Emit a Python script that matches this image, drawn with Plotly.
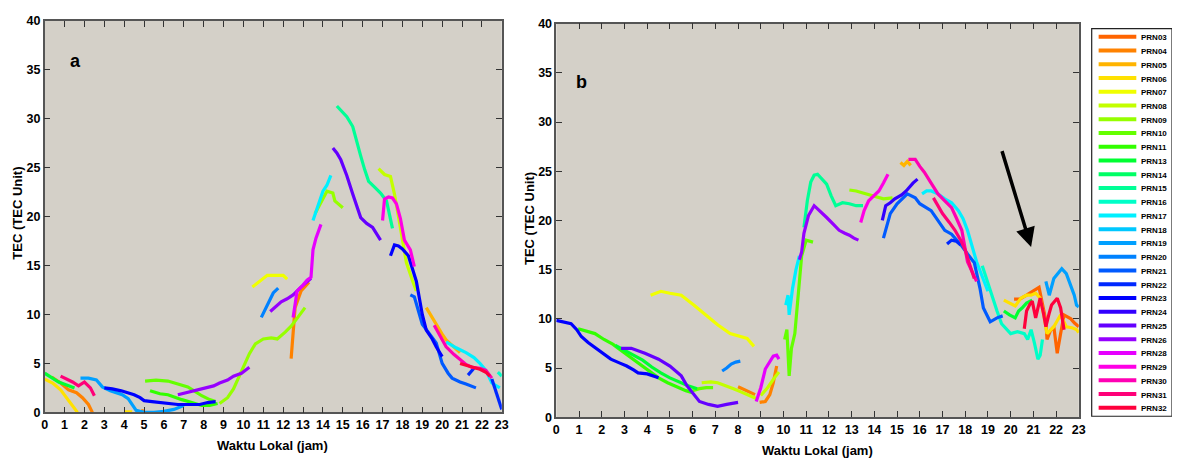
import plotly.graph_objects as go

# ---------------- legend / PRN list ----------------
prn_names = ["PRN03", "PRN04", "PRN05", "PRN06", "PRN07", "PRN08", "PRN09", "PRN10",
             "PRN11", "PRN13", "PRN14", "PRN15", "PRN16", "PRN17", "PRN18", "PRN19",
             "PRN20", "PRN21", "PRN22", "PRN23", "PRN24", "PRN25", "PRN26", "PRN28",
             "PRN29", "PRN30", "PRN31", "PRN32"]
prn_colors = ["#FF6400", "#FF8200", "#FFB400", "#FFE100", "#F0FF00", "#C3FF00", "#96FF00",
              "#64FF00", "#32FF00", "#00FF32", "#00FF64", "#00FF96", "#00FFC8", "#00F0FF",
              "#00C8FF", "#00A0FF", "#0082FF", "#005AFF", "#0028FF", "#0000FF", "#3200FF",
              "#6400FF", "#9600FF", "#E600FF", "#FF00E6", "#FF00B4", "#FF0078", "#FF003C"]

# ---------------- panel a : local time (h) and TEC ----------------
a_prn04_t = [0.35, 0.8, 1.2, 1.6, 1.9, 2.2, 2.4, None, 4.85, 5.0, None, 12.4, 12.5, 12.6, 12.9, 13.3]
a_prn04_v = [3.6, 3.0, 2.3, 2.0, 1.5, 0.8, 0.0, None, 0.2, 0.1, None, 5.5, 8.7, 10.7, 12.4, 13.3]
a_prn05_t = [19.2, 19.4, 19.7, 20.0, 20.2, 20.6, 20.9]
a_prn05_v = [10.7, 10.0, 9.0, 8.0, 7.4, 6.7, 6.1]
a_prn06_t = [0.0, 0.4, 0.8, 1.2, 1.45, 1.65, None, 4.0, 4.4]
a_prn06_v = [3.4, 3.0, 2.3, 1.2, 0.6, 0.0, None, 0.05, 0.05]
a_prn07_t = [10.45, 10.8, 11.2, 11.6, 12.0, 12.2]
a_prn07_v = [12.8, 13.4, 14.0, 14.0, 14.0, 13.6]
a_prn08_t = [16.8, 17.1, 17.4, 17.6, 17.8, 18.0, 18.2, 18.5, 18.7]
a_prn08_v = [24.9, 24.3, 24.1, 22.3, 20.0, 17.6, 15.3, 13.5, 12.4]
a_prn09_t = [8.8, 9.2, 9.5, 9.7, 10.0, 10.3, 10.6, 11.0, 11.4, 11.7, 12.1, 12.4, 12.7, 13.1,
             None, 13.6, 13.9, 14.2, 14.5, 14.6, 15.0]
a_prn09_v = [0.9, 1.5, 2.4, 3.3, 4.8, 6.0, 7.0, 7.5, 7.6, 7.5, 8.2, 8.8, 9.6, 10.7,
             None, 20.3, 21.5, 22.6, 22.4, 21.6, 20.9]
a_prn10_t = [5.05, 5.6, 6.2, 6.7, 7.2, 7.6, 7.9, 8.3, 8.6]
a_prn10_v = [3.2, 3.3, 3.2, 2.9, 2.6, 2.1, 1.7, 1.3, 1.1]
a_prn11_t = [5.3, 5.8, 6.2, 6.6, 6.9, 7.4, 7.9, 8.3, 8.7]
a_prn11_v = [2.2, 1.9, 1.8, 1.5, 1.3, 1.0, 0.7, 0.7, 0.9]
a_prn13_t = [0.0, 0.3, 0.7, 1.1, 1.5]
a_prn13_v = [4.0, 3.6, 3.1, 2.8, 2.5]
a_prn15_t = [14.7, 15.0, 15.2, 15.5, 15.7, 15.9, 16.1, 16.3, 16.6, 16.9, 17.2, 17.35, 17.5]
a_prn15_v = [31.3, 30.7, 30.2, 29.2, 27.6, 26.2, 24.8, 23.6, 23.0, 22.4, 21.6, 20.0, 18.8]
a_prn16_t = [22.8, 23.0]
a_prn16_v = [4.1, 3.7]
a_prn17_t = [13.5, 13.7, 14.0, 14.2, 14.4, None, 20.2, 20.7, 21.2, 21.6, 21.9, 22.2, 22.5, 22.9]
a_prn17_v = [19.6, 20.8, 22.6, 23.2, 24.2, None, 7.2, 6.6, 6.1, 5.6, 5.0, 4.3, 3.0, 2.5]
a_prn19_t = [1.8, 2.2, 2.6, 2.9, 3.3, 3.6, 3.9, 4.2, 4.4, 4.6, 5.0, 5.5, 6.0, 6.5, 7.0]
a_prn19_v = [3.5, 3.5, 3.3, 2.6, 2.2, 2.0, 1.8, 1.4, 0.8, 0.2, 0.0, 0.0, 0.1, 0.3, 0.7]
a_prn20_t = [10.9, 11.2, 11.5, 11.75]
a_prn20_v = [9.7, 11.0, 12.2, 12.7]
a_prn21_t = [18.4, 18.6, 18.8, 19.0, 19.3, 19.7, 20.0, 20.3, 20.5, 20.9, 21.2, 21.7]
a_prn21_v = [12.0, 11.8, 10.4, 9.0, 8.2, 7.1, 5.0, 4.0, 3.5, 3.1, 2.9, 2.5]
a_prn22_t = [21.3, 21.5, 21.6, None, 22.5, 22.6, 22.7, 22.85, 23.0]
a_prn22_v = [3.8, 4.3, 4.5, None, 3.4, 2.8, 2.1, 1.2, 0.3]
a_prn23_t = [3.0, 3.4, 3.85, 4.2, 4.5, 4.8, 5.0, 5.4, 5.8, 6.3, 6.7, 7.2, 7.8, 8.2, 8.6,
             None, 17.4, 17.6, 17.8, 18.0, 18.3, 18.5, 18.7, 19.0, 19.2, 19.5, 19.7, 20.0]
a_prn23_v = [2.5, 2.4, 2.2, 2.0, 1.8, 1.5, 1.2, 1.1, 1.0, 0.9, 0.8, 0.8, 0.8, 1.0, 1.1,
             None, 16.0, 17.1, 17.0, 16.7, 16.0, 14.8, 13.4, 10.0, 8.4, 7.5, 6.7, 5.7]
a_prn25_t = [14.5, 14.7, 14.9, 15.2, 15.5, 15.9, 16.2, 16.5, 16.9]
a_prn25_v = [27.0, 26.5, 25.8, 24.2, 22.3, 19.9, 19.3, 18.9, 17.6]
a_prn26_t = [6.7, 7.1, 7.4, 7.8, 8.2, 8.5, 8.8, 9.2, 9.5, 9.9, 10.3,
             None, 11.35, 11.6, 11.9, 12.2, 12.5, 12.9, 13.2, 13.4]
a_prn26_v = [1.8, 2.0, 2.1, 2.3, 2.5, 2.7, 3.0, 3.3, 3.7, 4.0, 4.6,
             None, 10.3, 10.8, 11.3, 11.6, 12.0, 12.8, 13.3, 13.7]
a_prn28_t = [12.5, 12.7, 13.0, 13.2, 13.4, 13.5, 13.65, 13.8, 13.9]
a_prn28_v = [9.7, 12.4, 13.0, 13.5, 13.8, 16.6, 17.8, 18.6, 19.2]
a_prn29_t = [17.0, 17.1, 17.3, 17.5, 17.7, 17.9, 18.1, 18.4, 18.6]
a_prn29_v = [19.6, 21.8, 22.0, 21.9, 21.3, 19.8, 17.6, 16.6, 14.9]
a_prn30_t = [19.6, 19.9, 20.2, 20.6, 20.9, 21.2, 21.5, 21.9, 22.2, 22.5]
a_prn30_v = [8.9, 7.8, 6.7, 5.9, 5.4, 4.9, 4.6, 4.5, 4.3, 3.5]
a_prn31_t = [0.8, 1.1, 1.4, 1.7, 2.0, 2.3, 2.5]
a_prn31_v = [3.7, 3.4, 3.1, 2.7, 3.1, 2.5, 1.7]
a_prn32_t = [20.9, 21.2, 21.5, 21.9, 22.2, 22.4]
a_prn32_v = [5.0, 4.8, 4.6, 4.4, 4.1, 3.7]

# ---------------- panel b ----------------
b_prn03_t = [20.15, 20.4, 20.7, 21.0, 21.25, 21.4, 21.55, 21.6, 21.75, 21.9, 22.05, 22.2, 22.35,
             22.5, 22.65, 22.8, 23.0]
b_prn03_v = [12.0, 12.0, 12.4, 12.8, 13.2, 11.5, 9.8, 7.9, 8.8, 9.2, 6.5, 8.5, 10.4,
             10.2, 10.0, 9.6, 9.2]
b_prn04_t = [8.0, 8.3, 8.5, 8.75, None, 8.95, 9.2, 9.4, 9.55, 9.7]
b_prn04_v = [3.1, 2.8, 2.6, 2.3, None, 1.5, 1.6, 2.3, 3.5, 5.2]
b_prn05_t = [15.15, 15.3, 15.45, 15.6]
b_prn05_v = [25.9, 25.6, 26.0, 25.6]
b_prn06_t = [19.7, 19.95, 20.2, 20.45, 20.7, 20.9, 21.1, 21.3, 21.45, 21.6, 21.75, 21.9, 22.05,
             22.2, 22.45, 22.7, 22.9, 23.0]
b_prn06_v = [11.9, 11.6, 11.3, 12.1, 12.4, 12.4, 12.6, 12.1, 10.5, 8.5, 8.9, 9.2, 9.8,
             10.4, 9.2, 9.1, 8.9, 8.6]
b_prn07_t = [4.15, 4.6, 5.0, 5.5, 6.05, 6.5, 7.1, 7.65, 8.1, 8.4, 8.7]
b_prn07_v = [12.4, 12.8, 12.6, 12.4, 11.4, 10.5, 9.4, 8.5, 8.2, 8.0, 7.2]
b_prn08_t = [6.4, 6.8, 7.1, 7.5, 7.8, 8.1, 8.4, 8.8, None, 9.0, 9.3, 9.6, 9.8]
b_prn08_v = [3.5, 3.6, 3.5, 3.2, 2.9, 2.6, 2.3, 1.9, None, 2.2, 3.0, 4.0, 4.6]
b_prn09_t = [12.9, 13.2, 13.5, 13.8, 14.05, 14.4, 14.8]
b_prn09_v = [23.1, 23.0, 22.8, 22.6, 22.5, 22.2, 22.3]
b_prn10_t = [6.0, 6.3, 6.6, 6.9, None, 10.05, 10.15, 10.25, 10.35, 10.5, 10.65, 10.8, 11.0, 11.3]
b_prn10_v = [2.7, 2.9, 3.0, 3.0, None, 7.9, 8.9, 4.2, 7.0, 8.5, 12.5, 16.4, 18.0, 17.8]
b_prn11_t = [0.96, 1.3, 1.7, 2.1, 2.5, 2.9, 3.3, 3.7, 4.1, 4.5, 4.9, 5.3, 5.7, 6.0]
b_prn11_v = [9.0, 8.8, 8.5, 7.9, 7.4, 6.7, 6.0, 5.3, 4.7, 4.0, 3.5, 3.1, 2.7, 2.5]
b_prn13_t = [2.6, 3.0, 3.4, 3.8, 4.2, 4.6, 5.0, 5.4, 5.8, 6.2,
             None, 19.7, 19.95, 20.2, 20.35, 20.5, 20.7, 20.95]
b_prn13_v = [7.3, 6.8, 6.3, 5.8, 5.1, 4.5, 4.0, 3.6, 3.2, 2.9,
             None, 10.8, 10.4, 10.1, 10.8, 11.1, 11.6, 11.9]
b_prn15_t = [10.9, 11.05, 11.2, 11.35, 11.5, 11.7, 11.9, 12.1, 12.3, 12.6, 12.9, 13.2, 13.5]
b_prn15_v = [19.3, 22.0, 23.9, 24.6, 24.7, 24.2, 23.7, 22.5, 21.5, 21.8, 21.7, 21.5, 21.5]
b_prn16_t = [18.75, 18.95, 19.15, 19.4, 19.6, 19.8, 20.0, 20.3, 20.6, 20.75, 20.9, 21.05, 21.2,
             21.3, 21.4]
b_prn16_v = [15.4, 13.9, 12.4, 10.8, 9.5, 9.0, 8.5, 8.7, 8.5, 7.9, 8.9, 7.5, 5.9, 6.3, 7.9]
b_prn17_t = [10.1, 10.2, 10.25, 10.4, 10.55, 10.7,
             None, 16.1, 16.3, 16.5, 16.8, 17.1, 17.4, 17.7, 17.9, 18.1, 18.3, 18.5, 18.75, 19.0]
b_prn17_v = [11.4, 12.4, 10.4, 13.1, 15.0, 16.4,
             None, 22.7, 23.0, 23.0, 22.7, 22.2, 21.8, 21.0, 20.2, 19.0, 17.4, 15.8, 14.3, 12.8]
b_prn19_t = [21.55, 21.7, 21.9, 22.1, 22.25, 22.45, 22.65, 22.8, 22.9, 23.0]
b_prn19_v = [13.8, 12.4, 14.1, 14.7, 15.1, 14.6, 13.4, 12.4, 11.4, 11.2]
b_prn20_t = [7.3, 7.5, 7.7, 7.9, 8.1]
b_prn20_v = [4.7, 5.0, 5.4, 5.6, 5.7]
b_prn21_t = [14.4, 14.55, 14.7, 15.0, 15.45, 15.8, 16.0, 16.5, 17.1, 17.4, 17.85, 18.1, 18.4,
             18.65, 18.8, 19.1, 19.4, 19.65]
b_prn21_v = [18.2, 19.5, 20.7, 21.7, 22.7, 22.3, 21.7, 21.0, 19.0, 18.6, 17.4, 16.6, 15.7,
             13.1, 11.1, 9.7, 10.1, 10.3]
b_prn22_t = [17.2, 17.4, 17.6, 17.8]
b_prn22_v = [17.6, 18.0, 17.9, 17.5]
b_prn23_t = [0.0, 0.3, 0.65, 0.9, 1.1, 1.4, 1.8, 2.1, 2.4, 2.8, 3.1, 3.4, 3.6, 4.0, 4.3, 4.5]
b_prn23_v = [9.85, 9.7, 9.5, 8.9, 8.2, 7.6, 6.9, 6.4, 5.9, 5.5, 5.2, 4.8, 4.5, 4.4, 4.2, 4.0]
b_prn24_t = [14.35, 14.5, 14.7, 14.9, 15.2, 15.4, 15.7, 15.9]
b_prn24_v = [20.0, 21.5, 21.8, 22.2, 22.6, 23.0, 23.8, 24.2]
b_prn25_t = [2.85, 3.3, 3.9, 4.5, 5.0, 5.5, 5.75, 6.05, 6.3, 6.7, 7.1, 7.5, 8.0]
b_prn25_v = [7.0, 7.0, 6.5, 5.9, 5.2, 4.2, 3.2, 2.3, 1.6, 1.3, 1.1, 1.3, 1.5]
b_prn26_t = [10.7, 10.8, 10.9, 11.1, 11.35, 11.6, 11.9, 12.2, 12.45, 12.7, 12.9, 13.1, 13.3]
b_prn26_v = [16.0, 16.8, 18.7, 20.5, 21.5, 21.0, 20.3, 19.6, 19.0, 18.7, 18.5, 18.2, 18.0]
b_prn28_t = [8.8, 9.0, 9.2, 9.4, 9.55, 9.7, 9.8]
b_prn28_v = [1.6, 3.0, 4.9, 5.7, 6.2, 6.3, 5.9]
b_prn29_t = [13.4, 13.55, 13.75, 14.0, 14.2, 14.4, 14.6]
b_prn29_v = [19.8, 21.0, 22.0, 22.6, 23.0, 23.8, 24.7]
b_prn30_t = [15.5, 15.8, 16.0, 16.2, 16.5, 16.8, 17.1, 17.4, 17.6, 17.85, 18.1, 18.3, 18.5]
b_prn30_v = [26.2, 26.2, 25.5, 24.9, 23.8, 22.7, 22.0, 21.3, 20.3, 19.0, 15.8, 14.8, 13.8]
b_prn31_t = [16.6, 16.8, 17.0, 17.3, 17.55, 17.8, 18.0, 18.2, 18.4]
b_prn31_v = [22.3, 21.5, 20.7, 19.8, 19.0, 18.0, 17.0, 15.5, 14.1]
b_prn32_t = [20.6, 20.7, 20.85, 20.95, 21.1, 21.2, 21.3, 21.45, 21.55, 21.7, 21.8, 22.05, 22.2, 22.35]
b_prn32_v = [9.0, 10.8, 11.5, 11.8, 10.1, 11.0, 12.1, 10.5, 9.2, 10.6, 11.4, 12.1, 11.1, 8.9]

# arrow in panel b (tail -> head), data units
arrow_tail = (19.6, 27.2)
arrow_head = (20.9, 17.3)

x_ticks = list(range(0, 24))
y_ticks = list(range(0, 41, 5))

panel_a = [("PRN04", a_prn04_t, a_prn04_v), ("PRN05", a_prn05_t, a_prn05_v),
           ("PRN06", a_prn06_t, a_prn06_v), ("PRN07", a_prn07_t, a_prn07_v),
           ("PRN08", a_prn08_t, a_prn08_v), ("PRN09", a_prn09_t, a_prn09_v),
           ("PRN10", a_prn10_t, a_prn10_v), ("PRN11", a_prn11_t, a_prn11_v),
           ("PRN13", a_prn13_t, a_prn13_v), ("PRN15", a_prn15_t, a_prn15_v),
           ("PRN16", a_prn16_t, a_prn16_v), ("PRN17", a_prn17_t, a_prn17_v),
           ("PRN19", a_prn19_t, a_prn19_v), ("PRN20", a_prn20_t, a_prn20_v),
           ("PRN21", a_prn21_t, a_prn21_v), ("PRN22", a_prn22_t, a_prn22_v),
           ("PRN23", a_prn23_t, a_prn23_v), ("PRN25", a_prn25_t, a_prn25_v),
           ("PRN26", a_prn26_t, a_prn26_v), ("PRN28", a_prn28_t, a_prn28_v),
           ("PRN29", a_prn29_t, a_prn29_v), ("PRN30", a_prn30_t, a_prn30_v),
           ("PRN31", a_prn31_t, a_prn31_v), ("PRN32", a_prn32_t, a_prn32_v)]
panel_b = [("PRN03", b_prn03_t, b_prn03_v), ("PRN04", b_prn04_t, b_prn04_v),
           ("PRN05", b_prn05_t, b_prn05_v), ("PRN06", b_prn06_t, b_prn06_v),
           ("PRN07", b_prn07_t, b_prn07_v), ("PRN08", b_prn08_t, b_prn08_v),
           ("PRN09", b_prn09_t, b_prn09_v), ("PRN10", b_prn10_t, b_prn10_v),
           ("PRN11", b_prn11_t, b_prn11_v), ("PRN13", b_prn13_t, b_prn13_v),
           ("PRN15", b_prn15_t, b_prn15_v), ("PRN16", b_prn16_t, b_prn16_v),
           ("PRN17", b_prn17_t, b_prn17_v), ("PRN19", b_prn19_t, b_prn19_v),
           ("PRN20", b_prn20_t, b_prn20_v), ("PRN21", b_prn21_t, b_prn21_v),
           ("PRN22", b_prn22_t, b_prn22_v), ("PRN23", b_prn23_t, b_prn23_v),
           ("PRN24", b_prn24_t, b_prn24_v), ("PRN25", b_prn25_t, b_prn25_v),
           ("PRN26", b_prn26_t, b_prn26_v), ("PRN28", b_prn28_t, b_prn28_v),
           ("PRN29", b_prn29_t, b_prn29_v), ("PRN30", b_prn30_t, b_prn30_v),
           ("PRN31", b_prn31_t, b_prn31_v), ("PRN32", b_prn32_t, b_prn32_v)]

color_of = dict(zip(prn_names, prn_colors))

# page body has an 8px margin: the figure starts at (8, 8) of the window
OFF = 8
W, H = 1172, 454
FONT = "Liberation Sans, Arial, sans-serif"
BG = "#D4D0C8"

fig = go.Figure()
for name, t, v in panel_a:
    fig.add_trace(go.Scatter(x=t, y=v, mode="lines", name=name, showlegend=False,
                             line=dict(color=color_of[name], width=3.2),
                             xaxis="x", yaxis="y"))
for name, t, v in panel_b:
    fig.add_trace(go.Scatter(x=t, y=v, mode="lines", name=name, showlegend=False,
                             line=dict(color=color_of[name], width=3.2),
                             xaxis="x2", yaxis="y2"))


def px_x(p):
    return (p - OFF) / W


def px_y(p):
    return 1 - (p - OFF) / H


tick_font = dict(family=FONT, size=12.5, color="black", weight="bold")
axis_common = dict(range=[0, 23], tickmode="array", tickvals=x_ticks,
                   ticks="inside", ticklen=6, tickwidth=1.3, tickcolor="#333",
                   showline=True, linecolor="#555", linewidth=1.5, mirror="ticks",
                   showgrid=False, zeroline=False, tickfont=tick_font)
yaxis_common = dict(range=[0, 40], tickmode="array", tickvals=y_ticks,
                    ticks="inside", ticklen=6, tickwidth=1.3, tickcolor="#333",
                    showline=True, linecolor="#555", linewidth=1.5, mirror="ticks",
                    showgrid=False, zeroline=False, tickfont=tick_font)

fig.update_layout(
    width=W, height=H, paper_bgcolor="white", plot_bgcolor=BG,
    margin=dict(l=0, r=0, t=0, b=0), showlegend=False,
    xaxis=dict(domain=[px_x(42), px_x(503)], anchor="y", **axis_common),
    yaxis=dict(domain=[px_y(418), px_y(14)], anchor="x", **yaxis_common),
    xaxis2=dict(domain=[px_x(558), px_x(1085)], anchor="y2", **axis_common),
    yaxis2=dict(domain=[px_y(423), px_y(17)], anchor="x2", **yaxis_common),
)

ann = []
title_font = dict(family=FONT, size=13, color="black", weight="bold")
ann.append(dict(text="Waktu Lokal (jam)", xref="paper", yref="paper", x=px_x(272), y=px_y(452),
                showarrow=False, font=title_font, xanchor="center", yanchor="middle"))
ann.append(dict(text="Waktu Lokal (jam)", xref="paper", yref="paper", x=px_x(821), y=px_y(457),
                showarrow=False, font=title_font, xanchor="center", yanchor="middle"))
ann.append(dict(text="TEC (TEC Unit)", xref="paper", yref="paper", x=px_x(15), y=px_y(212),
                showarrow=False, font=title_font, textangle=-90, xanchor="center", yanchor="middle"))
ann.append(dict(text="TEC (TEC Unit)", xref="paper", yref="paper", x=px_x(531), y=px_y(218),
                showarrow=False, font=title_font, textangle=-90, xanchor="center", yanchor="middle"))
ann.append(dict(text="a", xref="x", yref="y", x=1.55, y=35.9, showarrow=False,
                font=dict(family=FONT, size=18, color="black", weight="bold")))
ann.append(dict(text="b", xref="x2", yref="y2", x=1.1, y=34.1, showarrow=False,
                font=dict(family=FONT, size=18, color="black", weight="bold")))
ann.append(dict(text="", xref="x2", yref="y2", x=arrow_head[0], y=arrow_head[1],
                axref="x2", ayref="y2", ax=arrow_tail[0], ay=arrow_tail[1],
                showarrow=True, arrowhead=2, arrowsize=1.1, arrowwidth=3.5, arrowcolor="black"))

# manual compact legend
shapes = [dict(type="rect", xref="paper", yref="paper", x0=px_x(1098), x1=px_x(1179),
               y0=px_y(422), y1=px_y(22), line=dict(color="#222", width=1.2),
               fillcolor="white", layer="above")]
for i, (nm, col) in enumerate(zip(prn_names, prn_colors)):
    yy = 30.5 + i * 14.18
    shapes.append(dict(type="line", xref="paper", yref="paper", x0=px_x(1105), x1=px_x(1143),
                       y0=px_y(yy), y1=px_y(yy), line=dict(color=col, width=4), layer="above"))
    ann.append(dict(text=nm, xref="paper", yref="paper", x=px_x(1147), y=px_y(yy + 1),
                    showarrow=False, xanchor="left", yanchor="middle", borderpad=0,
                    font=dict(family=FONT, size=8, color="black", weight="bold")))

fig.update_layout(annotations=ann, shapes=shapes)
fig.write_html("out.html")
